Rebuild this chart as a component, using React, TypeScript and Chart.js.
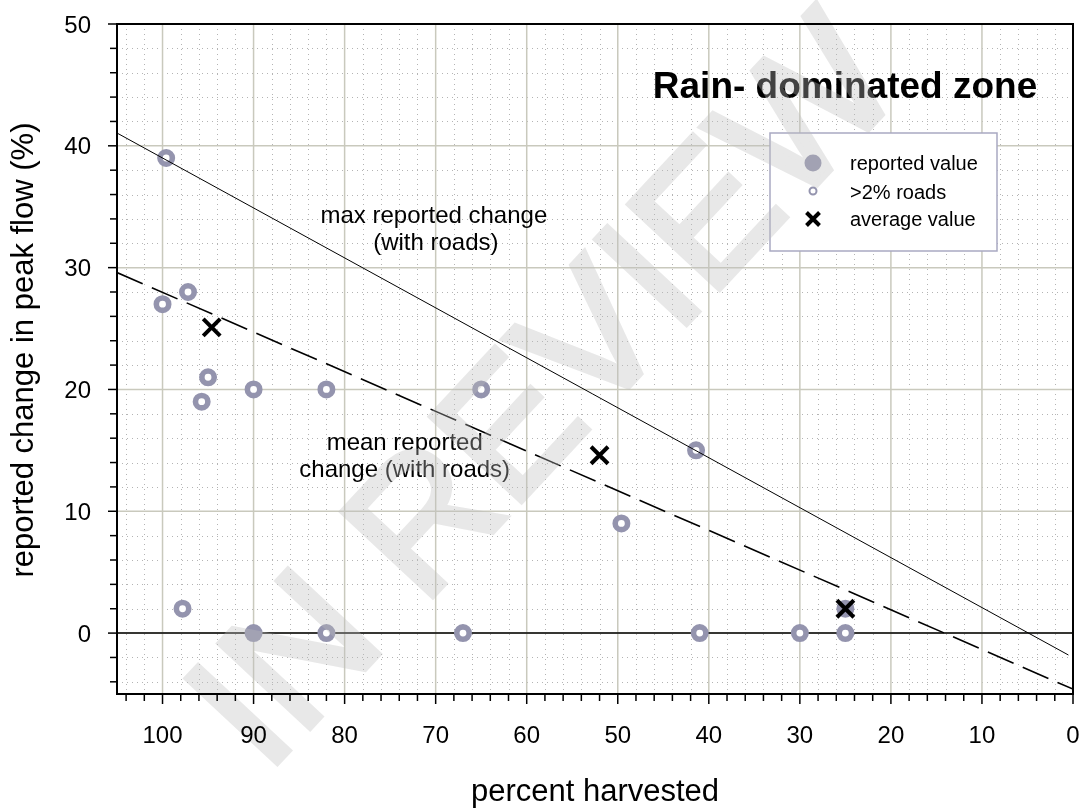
import React, { useEffect, useRef } from "react";
import { Chart, registerables } from "chart.js";

Chart.register(...registerables);

// ---- data ----
const ringX = [99.6, 100, 97.2, 95.0, 95.7, 90, 82, 65, 41.4, 49.6, 97.8, 82, 67, 41, 30, 25];
const ringY = [39, 27, 28, 21, 19, 20, 20, 20, 15, 9, 2, 0, 0, 0, 0, 0];
const filledX = [90, 25];
const filledY = [0, 2];
const avgX = [94.6, 52.0, 25.0];
const avgY = [25.1, 14.6, 2.0];
const maxLineX = [105, 0.5];
const maxLineY = [41.05, -1.8];
const meanLineX = [105, 0];
const meanLineY = [29.6, -4.6];
const zeroLineX = [0, 105];
const zeroLineY = [0, 0];

const xMin = 0;
const xMax = 105;
const yMin = -5;
const yMax = 50;
const tickStep = 2;
const majorStep = 10;

const titleText = "Rain- dominated zone";
const maxLabel = ["max reported change", "(with roads)"];
const meanLabel = ["mean reported", "change (with roads)"];
const legendLabels = ["reported value", ">2% roads", "average value"];
const xTitle = "percent harvested";
const yTitle = "reported change in peak flow (%)";
const watermark = "IN REVIEW";

const FONT = '"Liberation Sans", Arial, Helvetica, sans-serif';
const POINT = "#9494ae";
const MAJOR_GRID = "#c9c9bd";
const MINOR_GRID = "#b4b4b4";

const pts = (xs: number[], ys: number[]) => xs.map((x, i) => ({ x, y: ys[i] }));

const tickValues = (scale: any) => {
  const out: number[] = [];
  const lo = Math.min(scale.min, scale.max);
  const hi = Math.max(scale.min, scale.max);
  for (let v = Math.ceil(lo / tickStep) * tickStep; v <= hi + 1e-9; v += tickStep) out.push(v);
  return out;
};

const isMajor = (v: number) => Math.abs(v % majorStep) < 1e-9;

const drawX = (ctx: CanvasRenderingContext2D, x: number, y: number, h: number, w: number) => {
  ctx.save();
  ctx.strokeStyle = "#000";
  ctx.lineWidth = w;
  ctx.beginPath();
  ctx.moveTo(x - h, y - h);
  ctx.lineTo(x + h, y + h);
  ctx.moveTo(x - h, y + h);
  ctx.lineTo(x + h, y - h);
  ctx.stroke();
  ctx.restore();
};

const decor = {
  id: "decor",
  beforeDatasetsDraw(chart: any) {
    const { ctx, chartArea: ca, scales } = chart;
    const xs = scales.x;
    const ys = scales.y;
    ctx.save();
    // minor dotted grid
    ctx.lineWidth = 1;
    ctx.strokeStyle = MINOR_GRID;
    ctx.setLineDash([1, 4]);
    tickValues(xs).forEach((v) => {
      if (isMajor(v)) return;
      const px = Math.round(xs.getPixelForValue(v)) + 0.5;
      ctx.beginPath();
      ctx.moveTo(px, ca.top);
      ctx.lineTo(px, ca.bottom);
      ctx.stroke();
    });
    tickValues(ys).forEach((v) => {
      if (isMajor(v)) return;
      const py = Math.round(ys.getPixelForValue(v)) + 0.5;
      ctx.beginPath();
      ctx.moveTo(ca.left, py);
      ctx.lineTo(ca.right, py);
      ctx.stroke();
    });
    // major solid grid
    ctx.setLineDash([]);
    ctx.lineWidth = 1.5;
    ctx.strokeStyle = MAJOR_GRID;
    tickValues(xs).forEach((v) => {
      if (!isMajor(v)) return;
      const px = xs.getPixelForValue(v);
      ctx.beginPath();
      ctx.moveTo(px, ca.top);
      ctx.lineTo(px, ca.bottom);
      ctx.stroke();
    });
    tickValues(ys).forEach((v) => {
      if (!isMajor(v)) return;
      const py = ys.getPixelForValue(v);
      ctx.beginPath();
      ctx.moveTo(ca.left, py);
      ctx.lineTo(ca.right, py);
      ctx.stroke();
    });
    ctx.restore();
  },
  afterDatasetsDraw(chart: any) {
    const { ctx, chartArea: ca, scales } = chart;
    const xs = scales.x;
    const ys = scales.y;
    ctx.save();
    ctx.fillStyle = "#000";
    // panel title
    ctx.font = `bold 37px ${FONT}`;
    ctx.textAlign = "left";
    ctx.textBaseline = "alphabetic";
    ctx.fillText(titleText, xs.getPixelForValue(46.15), ys.getPixelForValue(43.93));
    // line annotations
    ctx.font = `24px ${FONT}`;
    ctx.textAlign = "center";
    const mx = xs.getPixelForValue(70.2);
    const my = ys.getPixelForValue(33.67);
    ctx.fillText(maxLabel[0], mx, my);
    ctx.fillText(maxLabel[1], mx + 2, my + 27);
    const nx = xs.getPixelForValue(73.4);
    const ny = ys.getPixelForValue(15.03);
    ctx.fillText(meanLabel[0], nx, ny);
    ctx.fillText(meanLabel[1], nx, ny + 27);
    // legend
    const lx = ca.left + 653;
    const ly = ca.top + 109;
    const lw = 227;
    const lh = 118;
    ctx.fillStyle = "#fff";
    ctx.fillRect(lx, ly, lw, lh);
    ctx.strokeStyle = "#a9a9c2";
    ctx.lineWidth = 1.5;
    ctx.strokeRect(lx, ly, lw, lh);
    const mkx = lx + 43;
    ctx.fillStyle = POINT;
    ctx.beginPath();
    ctx.arc(mkx, ly + 30, 8.5, 0, Math.PI * 2);
    ctx.fill();
    ctx.fillStyle = "#fff";
    ctx.strokeStyle = POINT;
    ctx.lineWidth = 2;
    ctx.beginPath();
    ctx.arc(mkx, ly + 58, 3.5, 0, Math.PI * 2);
    ctx.fill();
    ctx.stroke();
    drawX(ctx, mkx, ly + 86, 6.5, 4);
    ctx.fillStyle = "#000";
    ctx.font = `20px ${FONT}`;
    ctx.textAlign = "left";
    ctx.fillText(legendLabels[0], lx + 80, ly + 37);
    ctx.fillText(legendLabels[1], lx + 80, ly + 66);
    ctx.fillText(legendLabels[2], lx + 80, ly + 93);
    ctx.restore();

    // watermark (opaque on an offscreen layer, then composited with transparency)
    const w = chart.width;
    const h = chart.height;
    const off = document.createElement("canvas");
    off.width = w;
    off.height = h;
    const o = off.getContext("2d");
    if (o) {
      o.translate(ca.left + 149, ca.bottom + 81);
      o.rotate((-47 * Math.PI) / 180);
      o.font = `180px ${FONT}`;
      o.fillStyle = "rgb(190,190,190)";
      o.strokeStyle = "rgb(190,190,190)";
      o.lineWidth = 6;
      o.lineJoin = "miter";
      o.textAlign = "left";
      o.textBaseline = "alphabetic";
      o.fillText(watermark, 0, 0);
      o.strokeText(watermark, 0, 0);
      ctx.save();
      ctx.globalAlpha = 0.35;
      ctx.drawImage(off, 0, 0, w, h);
      ctx.restore();
    }
  },
  afterDraw(chart: any) {
    const { ctx, chartArea: ca, scales } = chart;
    const xs = scales.x;
    const ys = scales.y;
    ctx.save();
    ctx.strokeStyle = "#000";
    ctx.lineWidth = 2;
    ctx.strokeRect(ca.left, ca.top, ca.right - ca.left, ca.bottom - ca.top);
    ctx.lineWidth = 1.5;
    ctx.fillStyle = "#000";
    ctx.font = `24px ${FONT}`;
    tickValues(xs).forEach((v) => {
      const px = xs.getPixelForValue(v);
      const major = isMajor(v);
      ctx.beginPath();
      ctx.moveTo(px, ca.bottom);
      ctx.lineTo(px, ca.bottom + (major ? 10 : 7));
      ctx.stroke();
      if (major) {
        ctx.textAlign = "center";
        ctx.textBaseline = "alphabetic";
        ctx.fillText(String(v), px, ca.bottom + 49);
      }
    });
    tickValues(ys).forEach((v) => {
      const py = ys.getPixelForValue(v);
      const major = isMajor(v);
      ctx.beginPath();
      ctx.moveTo(ca.left - (major ? 9 : 7), py);
      ctx.lineTo(ca.left, py);
      ctx.stroke();
      if (major) {
        ctx.textAlign = "right";
        ctx.textBaseline = "alphabetic";
        ctx.fillText(String(v), ca.left - 26, py + 8.6);
      }
    });
    // axis titles
    ctx.font = `31px ${FONT}`;
    ctx.textAlign = "center";
    ctx.textBaseline = "alphabetic";
    ctx.fillText(xTitle, (ca.left + ca.right) / 2, ca.bottom + 107);
    ctx.translate(33, 350);
    ctx.rotate(-Math.PI / 2);
    ctx.fillText(yTitle, 0, 0);
    ctx.restore();
  },
};

export default function App() {
  const ref = useRef<HTMLCanvasElement | null>(null);
  useEffect(() => {
    if (!ref.current) return;
    const chart = new Chart(ref.current, {
      type: "scatter",
      data: {
        datasets: [
          {
            label: "average value",
            data: pts(avgX, avgY),
            pointStyle: "crossRot",
            pointRadius: 12,
            borderWidth: 4,
            borderColor: "#000",
            backgroundColor: "#000",
            order: 0,
          },
          {
            label: "max",
            data: pts(maxLineX, maxLineY),
            showLine: true,
            borderColor: "#000",
            borderWidth: 1,
            pointRadius: 0,
            order: 1,
          },
          {
            label: "mean",
            data: pts(meanLineX, meanLineY),
            showLine: true,
            borderColor: "#000",
            borderWidth: 1.6,
            borderDash: [28, 10],
            pointRadius: 0,
            order: 2,
          },
          {
            label: "reported value",
            data: pts(filledX, filledY),
            pointStyle: "circle",
            pointRadius: 9,
            borderWidth: 0,
            backgroundColor: POINT,
            borderColor: POINT,
            order: 3,
          },
          {
            label: ">2% roads",
            data: pts(ringX, ringY),
            pointStyle: "circle",
            pointRadius: 6.2,
            borderWidth: 5.6,
            backgroundColor: "#fff",
            borderColor: POINT,
            order: 4,
          },
          {
            label: "zero",
            data: pts(zeroLineX, zeroLineY),
            showLine: true,
            borderColor: "#000",
            borderWidth: 1.5,
            pointRadius: 0,
            order: 5,
          },
        ],
      },
      options: {
        responsive: false,
        animation: false,
        events: [],
        layout: { padding: { top: 24, right: 12, left: 117, bottom: 116 } },
        plugins: { legend: { display: false }, tooltip: { enabled: false } },
        scales: {
          x: {
            type: "linear",
            display: false,
            min: xMin,
            max: xMax,
            reverse: true,
            bounds: "data",
          },
          y: {
            type: "linear",
            display: false,
            min: yMin,
            max: yMax,
            bounds: "data",
          },
        },
      },
      plugins: [decor],
    } as any);
    return () => chart.destroy();
  }, []);
  return (
    <div style={{ position: "absolute", left: 0, top: 0, width: 1089, height: 810 }}>
      <canvas ref={ref} width={1089} height={810} />
    </div>
  );
}
